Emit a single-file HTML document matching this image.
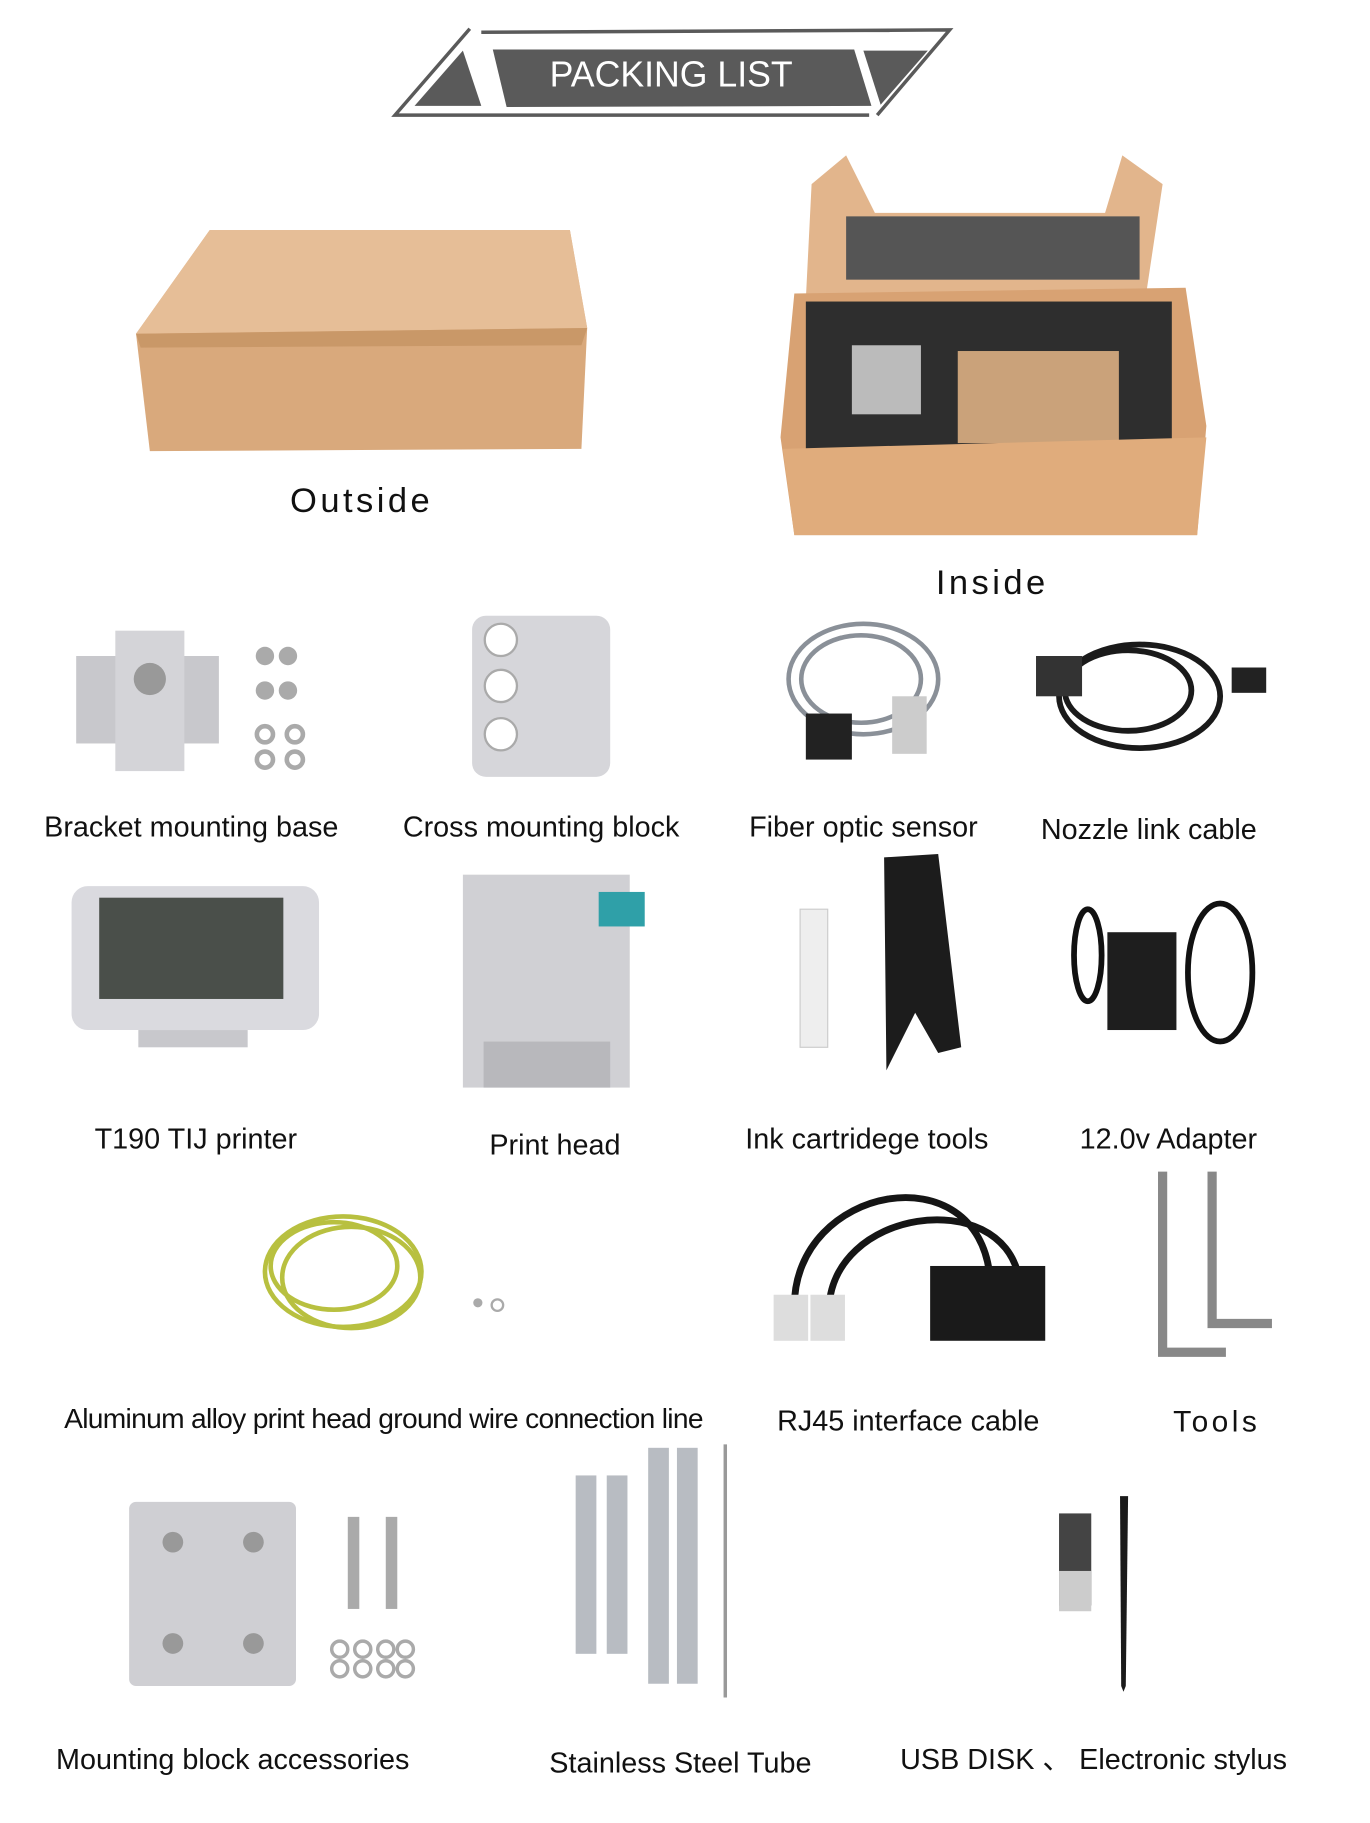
<!DOCTYPE html>
<html><head><meta charset="utf-8"><style>
html,body{margin:0;padding:0;background:#fff;}
svg{display:block;}
text{font-family:"Liberation Sans",sans-serif;fill:#111;}
</style></head><body>
<svg width="1370" height="1823" viewBox="0 0 1190 1584" xmlns="http://www.w3.org/2000/svg">
<rect width="1190" height="1584" fill="#fff"/>
<!-- Banner -->
<g>
<polyline points="755,100 343,100 408,25" fill="none" stroke="#5a5a5a" stroke-width="3"/>
<polyline points="418,28 825,26 762,100" fill="none" stroke="#5a5a5a" stroke-width="3"/>
<polygon points="360,92 402,44 418,92" fill="#5a5a5a"/>
<polygon points="428,43 742,43 757,92 440,93" fill="#5a5a5a"/>
<polygon points="750,44 806,44 765,91" fill="#5a5a5a"/>
<text x="583" y="75" text-anchor="middle" font-size="31" style="fill:#fff" font-family="DejaVu Sans Condensed, Liberation Sans Narrow, sans-serif">PACKING LIST</text>
</g>
<!-- Outside box -->
<polygon points="182,200 495,200 510,285 505,390 130,392 118,290" fill="#d9a97c"/>
<polygon points="182,200 495,200 510,285 118,290" fill="#e6be97"/>
<polygon points="118,290 510,285 505,300 122,302" fill="#c99868"/>
<text x="314" y="445" text-anchor="middle" font-size="30" letter-spacing="3">Outside</text>
<!-- Inside box -->
<polygon points="705,160 735,135 760,185 960,185 975,135 1010,160 995,260 700,260" fill="#e2b58c"/>
<rect x="735" y="188" width="255" height="55" fill="#555"/>
<polygon points="690,255 1030,250 1048,370 1040,465 690,465 678,380" fill="#d8a273"/>
<rect x="700" y="262" width="318" height="130" fill="#2e2e2e"/>
<rect x="832" y="305" width="140" height="80" fill="#caa27a"/>
<rect x="740" y="300" width="60" height="60" fill="#bbb"/>
<polygon points="680,390 1048,380 1040,465 690,465" fill="#e0ac7c"/>
<text x="862" y="516" text-anchor="middle" font-size="30" letter-spacing="3">Inside</text>
<!-- Row 1 -->
<rect x="66" y="570" width="124" height="76" fill="#c8c8cc"/>
<rect x="100" y="548" width="60" height="122" fill="#d4d4d8"/>
<circle cx="130" cy="590" r="14" fill="#999"/>
<g fill="#aaa"><circle cx="230" cy="570" r="8"/><circle cx="250" cy="570" r="8"/><circle cx="230" cy="600" r="8"/><circle cx="250" cy="600" r="8"/></g>
<g fill="none" stroke="#aaa" stroke-width="4"><circle cx="230" cy="638" r="7"/><circle cx="256" cy="638" r="7"/><circle cx="230" cy="660" r="7"/><circle cx="256" cy="660" r="7"/></g>
<text x="166" y="727" text-anchor="middle" font-size="25">Bracket mounting base</text>
<rect x="410" y="535" width="120" height="140" rx="12" fill="#d6d6da"/>
<g fill="#fff" stroke="#aaa" stroke-width="2"><circle cx="435" cy="556" r="14"/><circle cx="435" cy="596" r="14"/><circle cx="435" cy="638" r="14"/></g>
<text x="470" y="727" text-anchor="middle" font-size="25">Cross mounting block</text>
<g fill="none" stroke="#8a9098" stroke-width="4"><ellipse cx="750" cy="590" rx="65" ry="48"/><ellipse cx="748" cy="590" rx="52" ry="38"/></g>
<rect x="700" y="620" width="40" height="40" fill="#222"/>
<rect x="775" y="605" width="30" height="50" fill="#ccc"/>
<text x="750" y="727" text-anchor="middle" font-size="25">Fiber optic sensor</text>
<g fill="none" stroke="#1a1a1a" stroke-width="5"><ellipse cx="990" cy="605" rx="70" ry="45"/><ellipse cx="980" cy="600" rx="55" ry="35"/></g>
<rect x="900" y="570" width="40" height="35" fill="#333"/>
<rect x="1070" y="580" width="30" height="22" fill="#222"/>
<text x="998" y="729" text-anchor="middle" font-size="25">Nozzle link cable</text>
<!-- Row 2 -->
<rect x="62" y="770" width="215" height="125" rx="14" fill="#dadadf"/>
<rect x="86" y="780" width="160" height="88" fill="#4a4f4a"/>
<rect x="120" y="895" width="95" height="15" fill="#c8c8cc"/>
<text x="170" y="998" text-anchor="middle" font-size="25">T190 TIJ printer</text>
<rect x="402" y="760" width="145" height="185" fill="#d0d0d4"/>
<rect x="520" y="775" width="40" height="30" fill="#2fa0a8"/>
<rect x="420" y="905" width="110" height="40" fill="#b8b8bc"/>
<text x="482" y="1003" text-anchor="middle" font-size="25">Print head</text>
<rect x="695" y="790" width="24" height="120" fill="#eeeeee" stroke="#ccc"/>
<polygon points="768,745 815,742 835,910 815,915 795,880 770,930" fill="#1c1c1c"/>
<text x="753" y="998" text-anchor="middle" font-size="25">Ink cartridege tools</text>
<rect x="962" y="810" width="60" height="85" fill="#1e1e1e"/>
<g fill="none" stroke="#111" stroke-width="5"><ellipse cx="1060" cy="845" rx="28" ry="60"/><ellipse cx="945" cy="830" rx="12" ry="40"/></g>
<text x="1015" y="998" text-anchor="middle" font-size="25">12.0v Adapter</text>
<!-- Row 3 -->
<g fill="none" stroke="#b8c040" stroke-width="4"><ellipse cx="298" cy="1105" rx="68" ry="48"/><ellipse cx="290" cy="1100" rx="55" ry="38"/><ellipse cx="305" cy="1110" rx="60" ry="44"/></g>
<circle cx="415" cy="1132" r="4" fill="#aaa"/><circle cx="432" cy="1134" r="5" fill="none" stroke="#aaa" stroke-width="2"/>
<text x="333" y="1241" text-anchor="middle" font-size="24.5" letter-spacing="-0.6">Aluminum alloy print head ground wire connection line</text>
<g fill="none" stroke="#151515" stroke-width="6"><path d="M690,1135 C690,1030 850,1000 860,1110"/><path d="M720,1140 C720,1050 870,1030 885,1110"/></g>
<rect x="672" y="1125" width="30" height="40" fill="#ddd"/><rect x="704" y="1125" width="30" height="40" fill="#ddd"/>
<rect x="808" y="1100" width="100" height="65" fill="#1a1a1a"/>
<text x="789" y="1243" text-anchor="middle" font-size="25">RJ45 interface cable</text>
<g fill="none" stroke="#888" stroke-width="8"><path d="M1010,1018 V1175 H1065"/><path d="M1053,1018 V1150 H1105"/></g>
<text x="1057" y="1244" text-anchor="middle" font-size="26" letter-spacing="3">Tools</text>
<!-- Row 4 -->
<rect x="112" y="1305" width="145" height="160" rx="6" fill="#cfcfd3"/>
<g fill="#999"><circle cx="150" cy="1340" r="9"/><circle cx="220" cy="1340" r="9"/><circle cx="150" cy="1428" r="9"/><circle cx="220" cy="1428" r="9"/></g>
<g fill="#aaa"><rect x="302" y="1318" width="10" height="80"/><rect x="335" y="1318" width="10" height="80"/></g>
<g fill="none" stroke="#aaa" stroke-width="3"><circle cx="295" cy="1433" r="7"/><circle cx="315" cy="1433" r="7"/><circle cx="335" cy="1433" r="7"/><circle cx="352" cy="1433" r="7"/><circle cx="295" cy="1450" r="7"/><circle cx="315" cy="1450" r="7"/><circle cx="335" cy="1450" r="7"/><circle cx="352" cy="1450" r="7"/></g>
<text x="202" y="1537" text-anchor="middle" font-size="25">Mounting block accessories</text>
<g fill="#b8bcc2"><rect x="500" y="1282" width="18" height="155"/><rect x="527" y="1282" width="18" height="155"/><rect x="563" y="1258" width="18" height="205"/><rect x="588" y="1258" width="18" height="205"/></g>
<line x1="630" y1="1255" x2="630" y2="1475" stroke="#999" stroke-width="3"/>
<text x="591" y="1540" text-anchor="middle" font-size="25">Stainless Steel Tube</text>
<rect x="920" y="1315" width="28" height="80" fill="#444"/><rect x="920" y="1365" width="28" height="35" fill="#ccc"/>
<polygon points="973,1300 980,1300 978,1465 976,1470 974,1465" fill="#1a1a1a"/>
<text x="950" y="1537" text-anchor="middle" font-size="25" font-family="Liberation Sans, Noto Sans CJK SC, sans-serif">USB DISK 、 Electronic stylus</text>
</svg>
</body></html>
